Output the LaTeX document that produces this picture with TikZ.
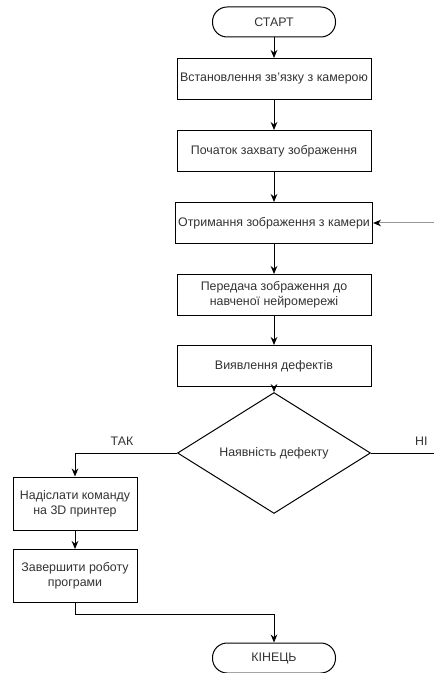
\documentclass[tikz,border=0pt]{standalone}
\usepackage{fontspec}
\setmainfont{Liberation Sans}
\usetikzlibrary{arrows.meta}
\usetikzlibrary{shapes.geometric}

\tikzset{
  every node/.style={font=\fontsize{9.3}{11.5}\selectfont, text=black!80},
  flow/.style={draw=black, line width=.75pt, fill=white, inner sep=2pt, align=center},
  stepbox/.style={flow, rectangle, minimum width=145.5pt, minimum height=30.75pt},
  sidebox/.style={flow, rectangle, minimum width=93pt, minimum height=39.75pt},
  terminal/.style={flow, rectangle, rounded corners=11pt, minimum width=92.25pt, minimum height=22.5pt},
  decision/.style={flow, diamond, inner sep=0pt, minimum width=144.75pt, minimum height=60.75pt},
  link/.style={black, line width=.75pt, ->, >={Stealth[length=6pt,width=5pt]}}
}

\begin{document}
\begin{tikzpicture}[x=.75pt, y=-.75pt]
\useasboundingbox (0,0) rectangle (434,673);
\fill[white] (0,0) rectangle (434,673);
% main column
\node[terminal] (start) at (274,22) {СТАРТ};
\node[stepbox] (link) at (274,79) {Встановлення зв'язку з камерою};
\node[stepbox] (capture) at (274,151) {Початок захвату зображення};
\node[stepbox] (frame) at (274,223) {Отримання зображення з камери};
\node[stepbox] (send) at (274,295) {Передача зображення до\\навченої нейромережі};
\node[stepbox] (detect) at (274,366) {Виявлення дефектів};
\node[decision] (defect) at (274,453) {Наявність дефекту};
% left branch
\node[sidebox] (printer) at (75,503.5) {Надіслати команду\\на 3D принтер};
\node[sidebox] (stop) at (75,576) {Завершити роботу\\програми};
\node[terminal] (fin) at (274,658) {КІНЕЦЬ};
\coordinate (noEnd) at (434,453);
\coordinate (loopIn) at (434,223);

\draw[link] (start) -- (link);
\draw[link] (link) -- (capture);
\draw[link] (capture) -- (frame);
\draw[link] (frame) -- (send);
\draw[link] (send) -- (detect);
\draw[link] (detect) -- (defect);
\draw[link] (defect.west) -| node[pos=.27, above, yshift=2pt]{ТАК} (printer.north);
\draw[black, line width=.75pt] (defect.east) -- (noEnd) node[pos=.8, above, yshift=2pt]{НІ};
\draw[link, draw=black!40, >={Stealth[length=6pt,width=5pt,black]}] (loopIn) -- (frame.east);
\draw[link] (printer) -- (stop);
\draw[link] (stop.south) -- ++(0,11) -| (fin.north);
\end{tikzpicture}
\end{document}
